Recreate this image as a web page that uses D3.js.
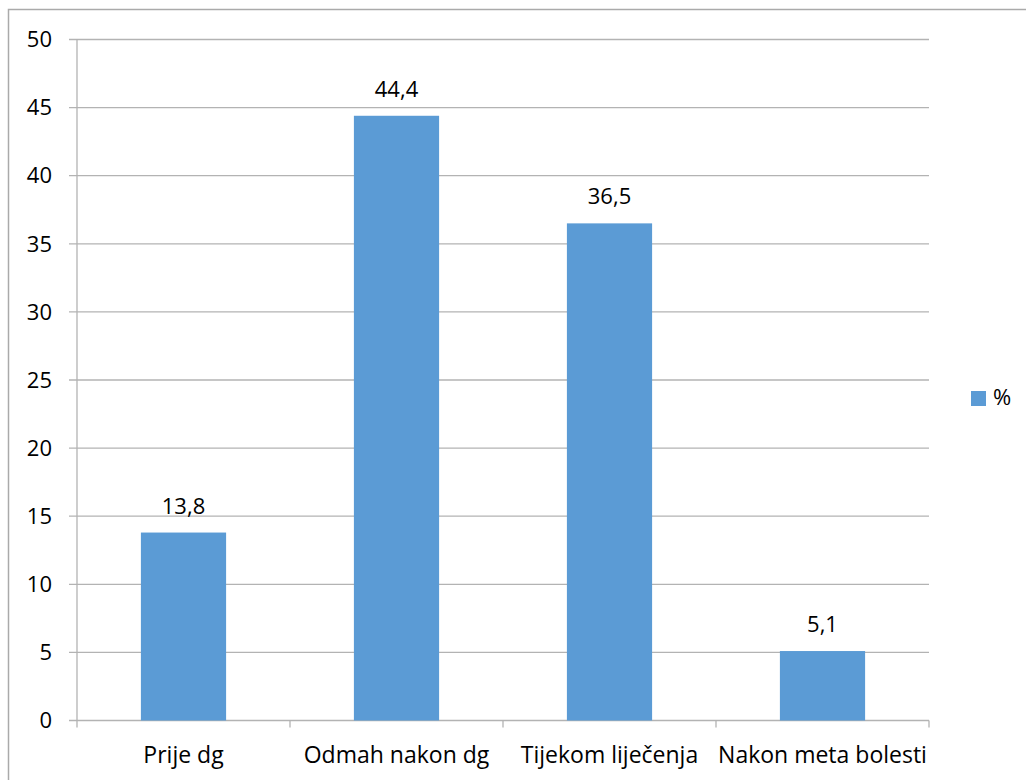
<!DOCTYPE html>
<html>
<head>
<meta charset="utf-8">
<script src="https://cdn.jsdelivr.net/npm/d3@7"></script>
<style>
  html, body { margin: 0; padding: 0; background: #fff; }
  svg { display: block; }
  text { font-family: "Open Sans", "Liberation Sans", sans-serif; fill: #000; }
</style>
</head>
<body>
<svg id="chart" width="1026" height="780"></svg>
<script>
'use strict';

// data
const categories = ['Prije dg', 'Odmah nakon dg', 'Tijekom liječenja', 'Nakon meta bolesti'];
const values     = [13.8, 44.4, 36.5, 5.1];
const valueLabels = ['13,8', '44,4', '36,5', '5,1'];
const yTicks     = [0, 5, 10, 15, 20, 25, 30, 35, 40, 45, 50];
const seriesName = '%';

const BAR  = '#5b9bd5';
const GRID = '#b3b3b3';
const FONT = 22;

const svg = d3.select('#chart');

// outer frame (only top and left edges are visible in the original)
svg.append('path')
  .attr('d', 'M8.5,780 V9.5 H1026')
  .attr('fill', 'none')
  .attr('stroke', '#aaaaaa')
  .attr('stroke-width', 1.5);

const plot = { left: 77, right: 929, top: 39.5, bottom: 720.5 };

const x = d3.scaleBand()
  .domain(categories)
  .range([plot.left, plot.right])
  .paddingInner(0.6)
  .paddingOuter(0.3);

const y = d3.scaleLinear()
  .domain([0, 50])
  .range([plot.bottom, plot.top]);

// gridlines + left ticks
const grid = svg.append('g');
grid.selectAll('line')
  .data(yTicks)
  .enter().append('line')
  .attr('x1', plot.left - 8).attr('x2', plot.right)
  .attr('y1', d => y(d)).attr('y2', d => y(d))
  .attr('stroke', GRID).attr('stroke-width', 1.3);

// y tick labels
svg.append('g').selectAll('text')
  .data(yTicks)
  .enter().append('text')
  .attr('x', 52)
  .attr('y', d => y(d))
  .attr('dy', '0.35em')
  .attr('text-anchor', 'end')
  .style('font-size', FONT + 'px')
  .text(d => d);

// y axis line
svg.append('line')
  .attr('x1', plot.left).attr('x2', plot.left)
  .attr('y1', plot.top).attr('y2', plot.bottom + 7)
  .attr('stroke', GRID).attr('stroke-width', 1.3);

// x axis tick marks on category boundaries
const step = x.step();
const bounds = d3.range(categories.length + 1).map(i => plot.left + i * step);
svg.append('g').selectAll('line')
  .data(bounds.slice(1))
  .enter().append('line')
  .attr('x1', d => d).attr('x2', d => d)
  .attr('y1', plot.bottom).attr('y2', plot.bottom + 7)
  .attr('stroke', GRID).attr('stroke-width', 1.3);

// bars
svg.append('g').selectAll('rect')
  .data(values)
  .enter().append('rect')
  .attr('x', (d, i) => x(categories[i]))
  .attr('width', x.bandwidth())
  .attr('y', d => y(d))
  .attr('height', d => y(0) - y(d))
  .attr('fill', BAR);

// value labels
svg.append('g').selectAll('text')
  .data(values)
  .enter().append('text')
  .attr('x', (d, i) => x(categories[i]) + x.bandwidth() / 2)
  .attr('y', d => y(d) - 19)
  .attr('text-anchor', 'middle')
  .style('font-size', FONT + 'px')
  .text((d, i) => valueLabels[i]);

// category labels
svg.append('g').selectAll('text')
  .data(categories)
  .enter().append('text')
  .attr('x', d => x(d) + x.bandwidth() / 2)
  .attr('y', 763)
  .attr('text-anchor', 'middle')
  .style('font-size', '23px')
  .text(d => d);

// legend
const legend = svg.append('g').attr('transform', 'translate(971,391)');
legend.append('rect')
  .attr('width', 15).attr('height', 15)
  .attr('fill', BAR);
legend.append('text')
  .attr('x', 22).attr('y', 14)
  .style('font-size', FONT + 'px')
  .text(seriesName);
</script>
</body>
</html>
